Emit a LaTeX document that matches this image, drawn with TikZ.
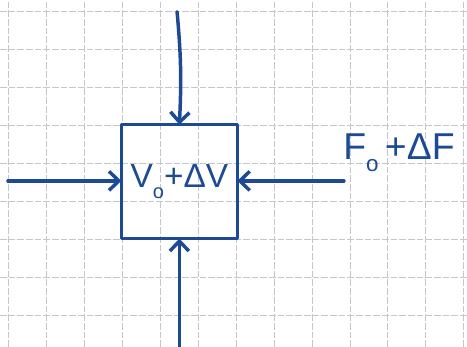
\documentclass[tikz,border=0pt]{standalone}
\usepackage{fontspec}
\setsansfont{Liberation Sans}
\usetikzlibrary{arrows.meta}
\definecolor{ink}{RGB}{28,74,148}
\definecolor{gridgray}{RGB}{196,198,204}
\newcommand{\lowsub}[1]{\raisebox{-0.32em}{\fontsize{0.6em}{0.6em}\selectfont #1}}
\begin{document}
\begin{tikzpicture}[
        font=\sffamily,
        ink/.style={draw=ink, line width=2.6pt, line cap=round},
        vessel/.style={
            rectangle, ink, line join=round,
            minimum width=3.05cm, minimum height=3.0cm,
            inner sep=0pt, outer sep=0pt, text=ink,
            font=\sffamily\fontsize{25}{27}\selectfont
        },
        lbl/.style={
            inner sep=0pt, text=ink,
            font=\sffamily\fontsize{28}{30}\selectfont
        },
        arr/.style={ink, -{Straight Barb[length=2.6mm, width=5mm]}},
        paper/.style={draw=gridgray, line width=0.7pt, dash pattern=on 5pt off 1.5pt}
    ]
    \useasboundingbox (0,0) rectangle (12.29,9.13);

    % Graph paper
    \foreach \x in {0,...,12}
        \draw[paper] (0.21+\x,0) -- (0.21+\x,9.13);
    \foreach \y in {0,...,8}
        \draw[paper] (0,0.82+\y) -- (12.29,0.82+\y);

    % Control volume
    \node[vessel] (vol) at (4.72, 4.35) {V\lowsub{o}+ΔV};

    % Free ends of the flows
    \coordinate (top) at (4.66, 8.82);
    \coordinate (left) at (0.21, 4.37);
    \coordinate (right) at (9.05, 4.37);
    \coordinate (bottom) at (4.72, 0);

    % Flows into the volume
    \draw[arr] (top) to[bend left=4] (vol.north);
    \draw[arr] (left) -- (left -| vol.west);
    \draw[arr] (right) -- (right -| vol.east);
    \draw[arr] (bottom) -- (vol.south);

    % Label
    \node[lbl, anchor=base west] (flow) at (9.03, 4.92) {F\lowsub{o}\,+ΔF};

    \end{tikzpicture}
\end{document}
